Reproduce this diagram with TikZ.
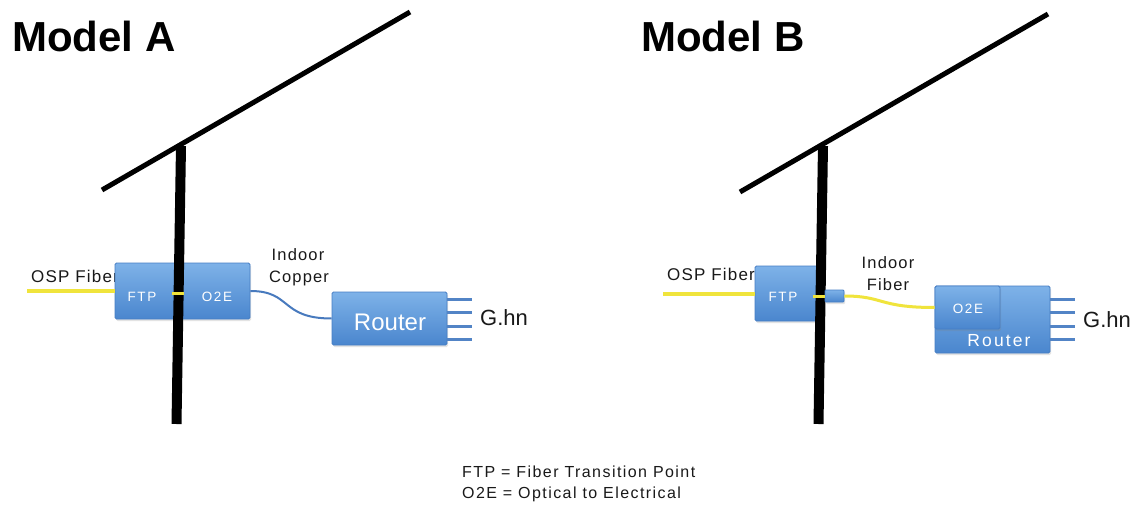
\documentclass[tikz,border=0pt]{standalone}
\usepackage{fontspec}
\setmainfont{Liberation Sans}
\newfontfamily\lblfont[LetterSpace=7]{Liberation Sans}
\newfontfamily\ospfont[LetterSpace=7]{Liberation Sans}
\newfontfamily\legfont[LetterSpace=9]{Liberation Sans}
\newfontfamily\boxfont[LetterSpace=12]{Liberation Sans}
\usetikzlibrary{shadows,calc}
\definecolor{boxtop}{RGB}{126,178,232}
\definecolor{boxbot}{RGB}{74,134,206}
\definecolor{boxline}{RGB}{70,126,196}
\definecolor{fibercol}{RGB}{240,228,60}
\definecolor{coppercol}{RGB}{72,122,190}
\definecolor{portcol}{RGB}{82,132,198}
\definecolor{txt}{RGB}{25,25,25}
\tikzset{
  devbox/.style={draw=boxline, line width=0.8pt, top color=boxtop, bottom color=boxbot,
    rounded corners=1.5pt, inner sep=0pt, text=white,
    drop shadow={opacity=0.22, shadow xshift=1pt, shadow yshift=-2pt}},
  roofline/.style={line width=5pt, black},
  poleline/.style={line width=10pt, black},
  fiberline/.style={line width=3.5pt, fibercol},
  copperline/.style={line width=2pt, coppercol},
  portline/.style={line width=3pt, portcol},
  title/.style={font=\fontsize{42pt}{48pt}\selectfont\bfseries, text=black, inner sep=0pt},
  label/.style={font=\lblfont\fontsize{16.5pt}{19pt}\selectfont, text=txt, inner sep=0pt},
  osplabel/.style={font=\ospfont\fontsize{17pt}{20pt}\selectfont, text=txt, inner sep=0pt},
  boxtext/.style={font=\boxfont\fontsize{13.5pt}{15pt}\selectfont, text=white, inner sep=0pt},
  legend/.style={font=\legfont\fontsize{16pt}{19pt}\selectfont, text=txt, inner sep=0pt},
  ghn/.style={font=\fontsize{22pt}{26pt}\selectfont, text=txt, inner sep=0pt},
}
\begin{document}
\begin{tikzpicture}[x=1pt,y=-1pt]
\useasboundingbox[fill=white] (0,0) rectangle (1136,508);

% ---------------- Model A ----------------
\node[title, anchor=base west] (titleA) at (12,52) {Model A};
\coordinate (roofA1) at (102,190);
\coordinate (roofA2) at (410,12);
\draw[roofline] (roofA1) -- (roofA2);

\node[osplabel, anchor=base west] (ospA) at (31,282.5) {OSP Fiber};
\coordinate (ospAend) at (27,291);

\node[devbox, minimum width=61pt, minimum height=56pt] (ftpA) at (145.5,291) {};
\node[devbox, minimum width=70pt, minimum height=56pt] (o2eA) at (215,291) {};
\node[boxtext] (ftpAt) at (142,297) {FTP};
\node[boxtext] (o2eAt) at (217,297) {O2E};
\draw[fiberline] (ospAend) -- (ftpA.west);

\coordinate (poleA1) at (181,146);
\coordinate (poleA2) at (176.5,424);
\draw[poleline] (poleA1) -- (poleA2);
\draw[fiberline, line width=3pt] ([xshift=-4pt,yshift=-2pt]ftpA.east) -- ([xshift=4pt,yshift=-2pt]o2eA.west);

\node[label, anchor=base] (indoorA) at (298,260) {Indoor};
\node[label, anchor=base] (copperA) at (299,282) {Copper};

\node[devbox, minimum width=115pt, minimum height=53pt] (routerA) at (389.5,318.5) {};
\node[font=\fontsize{24pt}{28pt}\selectfont, text=white, inner sep=0pt] (routerAt) at (390,322) {Router};
\draw[copperline] (o2eA.east) .. controls (292,291) and (280,318.5) .. (routerA.west);

\foreach \s/\n in {19.5/1, 6.5/2, -7.5/3, -20.5/4}{
  \draw[portline] ([yshift=\s pt]routerA.east) -- ++(25,0) coordinate (pA\n);
}
\node[ghn, anchor=base west] (ghnA) at (480,325) {G.hn};

% ---------------- Model B ----------------
\node[title, anchor=base west] (titleB) at (641,52) {Model B};
\coordinate (roofB1) at (740,192);
\coordinate (roofB2) at (1048,14);
\draw[roofline] (roofB1) -- (roofB2);

\node[osplabel, anchor=base west] (ospB) at (667,280) {OSP Fiber};
\coordinate (ospBend) at (663,294);

\node[devbox, minimum width=63pt, minimum height=55pt] (ftpB) at (786.5,293.5) {};
\node[boxtext] (ftpBt) at (783,297) {FTP};
\draw[fiberline] (ospBend) -- (ftpB.west |- ospBend);

\coordinate (poleB1) at (823,146);
\coordinate (poleB2) at (818.5,424);
\draw[poleline] (poleB1) -- (poleB2);

\node[devbox, rounded corners=1pt, minimum width=19pt, minimum height=12pt] (connB) at (834.5,296) {};
\draw[fiberline, line width=3pt] ([xshift=-5pt]ftpB.east |- connB) -- (connB.west);

\node[label, anchor=base] (indoorB) at (888,268) {Indoor};
\node[label, anchor=base] (fiberB) at (888,290) {Fiber};

\node[devbox, minimum width=115pt, minimum height=67pt] (routerB) at (992.5,319.5) {};
\node[devbox, drop shadow={opacity=0}, minimum width=65pt, minimum height=43pt] (o2eB) at (967.5,307.5) {};
\node[boxtext] (o2eBt) at (968,309) {O2E};
\node[boxtext, font=\boxfont\fontsize{17.5pt}{20pt}\selectfont, text=white] (routerBt) at (999,341) {Router};
\draw[fiberline, line width=3pt] (connB.east) .. controls (884,296) and (878,307.5) .. (o2eB.west);

\foreach \s/\n in {20.5/1, 7.5/2, -6.5/3, -19.5/4}{
  \draw[portline] ([yshift=\s pt]routerB.east) -- ++(25,0) coordinate (pB\n);
}
\node[ghn, anchor=base west] (ghnB) at (1083,327) {G.hn};

% ---------------- Legend ----------------
\node[legend, anchor=base west] (leg1) at (462,477.5) {FTP = Fiber Transition Point};
\node[legend, anchor=base west] (leg2) at (462,498) {O2E = Optical to Electrical};
\end{tikzpicture}
\end{document}
